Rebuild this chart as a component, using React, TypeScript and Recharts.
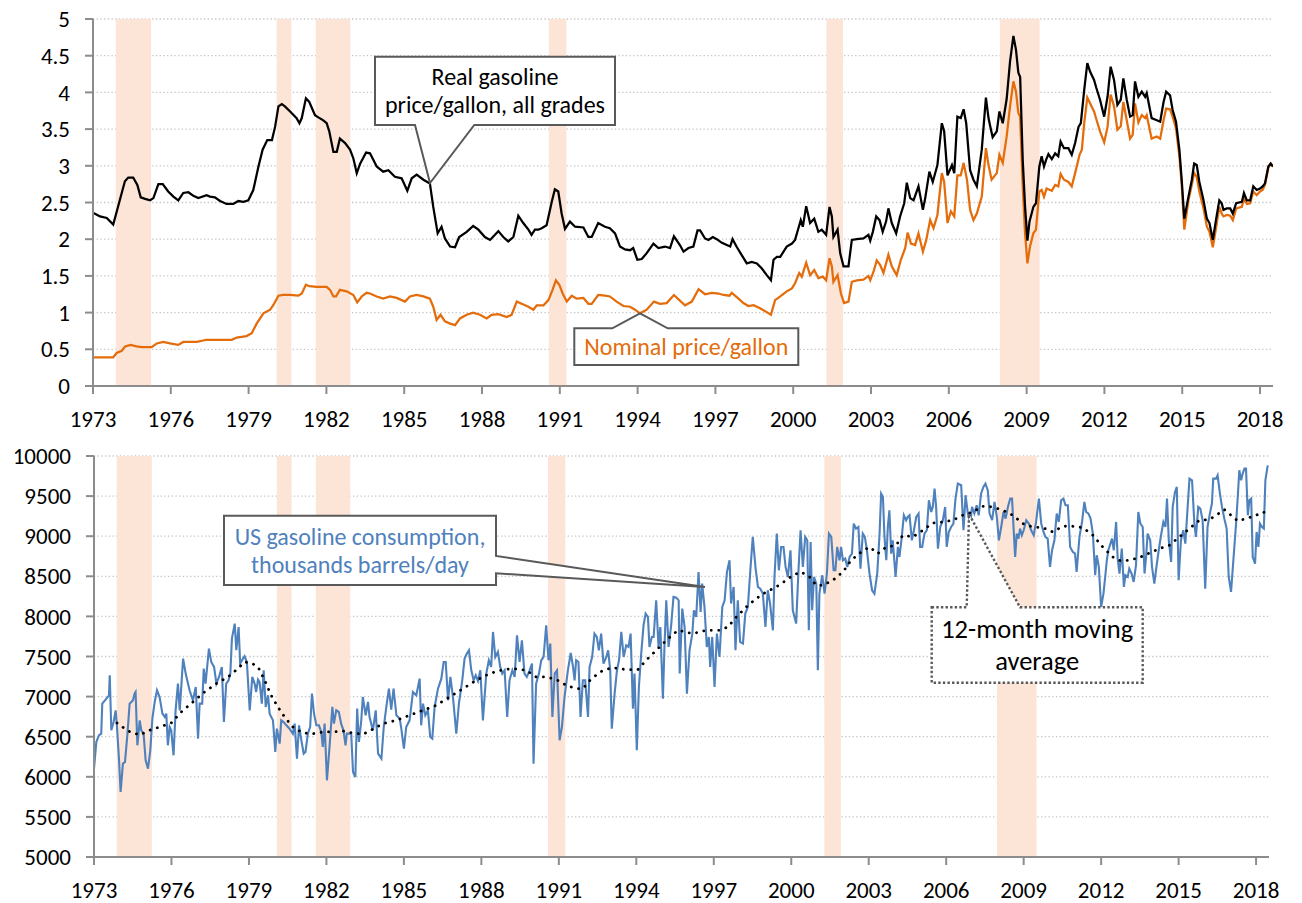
import { CartesianGrid, Line, LineChart, ReferenceArea, XAxis, YAxis } from "recharts";

const FONT = "Calibri, Carlito, Lato, sans-serif";

const YEAR_TICKS = [1973, 1976, 1979, 1982, 1985, 1988, 1991, 1994, 1997, 2000, 2003, 2006, 2009, 2012, 2015, 2018];
const PRICE_TICKS = [0, 0.5, 1, 1.5, 2, 2.5, 3, 3.5, 4, 4.5, 5];
const CONS_TICKS = [5000, 5500, 6000, 6500, 7000, 7500, 8000, 8500, 9000, 9500, 10000];

// NBER recessions, start / end as decimal years
const RECESSIONS: [number, number][] = [
  [1973.88, 1975.24],
  [1980.08, 1980.65],
  [1981.59, 1982.92],
  [1990.58, 1991.25],
  [2001.28, 2001.92],
  [2007.97, 2009.5],
];

// real price, $/gallon
const REAL_PRICE: [number, number][] = [
  [1973.0, 2.36], [1973.27, 2.31], [1973.53, 2.29], [1973.78, 2.2], [1974.04, 2.54], [1974.23, 2.79], [1974.36, 2.84],
  [1974.55, 2.84], [1974.71, 2.74], [1974.84, 2.57], [1975.01, 2.55], [1975.2, 2.53], [1975.33, 2.56], [1975.52, 2.75],
  [1975.69, 2.75], [1975.9, 2.65], [1976.1, 2.58], [1976.29, 2.53], [1976.48, 2.63], [1976.68, 2.64], [1976.87, 2.59],
  [1977.06, 2.56], [1977.38, 2.6], [1977.51, 2.58], [1977.7, 2.57], [1977.9, 2.52], [1978.15, 2.48], [1978.41, 2.48],
  [1978.6, 2.52], [1978.8, 2.51], [1978.99, 2.53], [1979.18, 2.67], [1979.38, 2.99], [1979.54, 3.22], [1979.72, 3.35],
  [1979.9, 3.35], [1980.02, 3.53], [1980.15, 3.81], [1980.28, 3.84], [1980.4, 3.81], [1980.6, 3.74], [1980.85, 3.65],
  [1980.96, 3.58], [1981.05, 3.65], [1981.21, 3.92], [1981.34, 3.87], [1981.56, 3.69], [1981.69, 3.66], [1981.88, 3.62],
  [1982.01, 3.58], [1982.11, 3.47], [1982.27, 3.19], [1982.4, 3.19], [1982.52, 3.37], [1982.72, 3.31], [1982.91, 3.22],
  [1983.04, 3.1], [1983.17, 2.9], [1983.3, 3.03], [1983.53, 3.18], [1983.68, 3.17], [1983.94, 2.99], [1984.19, 2.92],
  [1984.39, 2.94], [1984.64, 2.85], [1984.9, 2.83], [1985.12, 2.66], [1985.29, 2.83], [1985.48, 2.88], [1985.74, 2.81],
  [1985.99, 2.76], [1986.12, 2.44], [1986.29, 2.08], [1986.44, 2.17], [1986.57, 2.01], [1986.77, 1.9], [1986.96, 1.89],
  [1987.12, 2.03], [1987.41, 2.1], [1987.66, 2.18], [1987.86, 2.13], [1988.11, 2.03], [1988.31, 1.99], [1988.63, 2.11],
  [1988.82, 2.03], [1989.01, 1.97], [1989.21, 2.03], [1989.4, 2.32], [1989.59, 2.22], [1989.79, 2.13], [1989.91, 2.06],
  [1990.04, 2.13], [1990.17, 2.13], [1990.3, 2.15], [1990.49, 2.19], [1990.69, 2.51], [1990.81, 2.68], [1990.94, 2.65],
  [1991.07, 2.35], [1991.2, 2.14], [1991.39, 2.24], [1991.59, 2.17], [1991.91, 2.16], [1992.1, 2.03], [1992.23, 2.03],
  [1992.48, 2.22], [1992.74, 2.17], [1992.93, 2.15], [1993.13, 2.08], [1993.32, 1.9], [1993.51, 1.86], [1993.71, 1.85],
  [1993.83, 1.88], [1993.99, 1.72], [1994.16, 1.73], [1994.35, 1.81], [1994.61, 1.94], [1994.8, 1.88], [1995.06, 1.9],
  [1995.25, 1.88], [1995.4, 2.04], [1995.63, 1.92], [1995.77, 1.83], [1995.96, 1.88], [1996.15, 1.9], [1996.31, 2.12],
  [1996.41, 2.12], [1996.6, 2.01], [1996.73, 1.99], [1996.9, 2.03], [1997.05, 2.0], [1997.25, 1.95], [1997.44, 1.92],
  [1997.57, 1.9], [1997.66, 2.0], [1997.83, 1.89], [1998.02, 1.78], [1998.21, 1.67], [1998.4, 1.69], [1998.6, 1.67],
  [1998.79, 1.6], [1998.98, 1.51], [1999.14, 1.44], [1999.24, 1.72], [1999.37, 1.76], [1999.5, 1.76], [1999.75, 1.9],
  [1999.95, 1.94], [2000.07, 1.99], [2000.2, 2.15], [2000.29, 2.26], [2000.37, 2.17], [2000.5, 2.45], [2000.65, 2.22],
  [2000.81, 2.28], [2000.97, 2.1], [2001.1, 2.13], [2001.27, 2.06], [2001.4, 2.44], [2001.49, 2.31], [2001.55, 2.03],
  [2001.71, 2.13], [2001.81, 1.81], [2001.94, 1.63], [2002.13, 1.63], [2002.26, 1.99], [2002.45, 2.0], [2002.71, 2.01],
  [2002.9, 2.06], [2002.97, 1.98], [2003.07, 2.1], [2003.2, 2.31], [2003.33, 2.26], [2003.45, 2.1], [2003.58, 2.24],
  [2003.67, 2.42], [2003.8, 2.22], [2003.97, 2.08], [2004.12, 2.31], [2004.28, 2.49], [2004.38, 2.77], [2004.51, 2.56],
  [2004.64, 2.53], [2004.83, 2.72], [2005.0, 2.4], [2005.09, 2.56], [2005.25, 2.92], [2005.38, 2.78], [2005.56, 3.01],
  [2005.73, 3.58], [2005.82, 3.47], [2005.95, 2.87], [2006.12, 3.01], [2006.21, 2.9], [2006.33, 3.67], [2006.46, 3.65],
  [2006.57, 3.77], [2006.67, 3.58], [2006.82, 2.94], [2006.95, 2.81], [2007.08, 2.72], [2007.27, 3.22], [2007.43, 3.93],
  [2007.53, 3.65], [2007.59, 3.55], [2007.69, 3.39], [2007.85, 3.47], [2007.95, 3.74], [2008.08, 3.58], [2008.23, 3.91],
  [2008.36, 4.42], [2008.49, 4.77], [2008.59, 4.58], [2008.68, 4.27], [2008.75, 4.21], [2008.85, 3.08], [2008.94, 2.44],
  [2009.03, 1.98], [2009.11, 2.24], [2009.26, 2.44], [2009.36, 2.49], [2009.49, 2.99], [2009.58, 3.13], [2009.67, 2.99],
  [2009.75, 3.08], [2009.84, 3.16], [2009.97, 3.09], [2010.1, 3.17], [2010.22, 3.13], [2010.31, 3.33], [2010.44, 3.24],
  [2010.61, 3.24], [2010.74, 3.15], [2010.87, 3.31], [2011.0, 3.53], [2011.09, 3.58], [2011.22, 4.03], [2011.34, 4.4],
  [2011.45, 4.28], [2011.6, 4.17], [2011.68, 4.07], [2011.83, 3.9], [2011.99, 3.67], [2012.12, 3.94], [2012.24, 4.35],
  [2012.37, 4.17], [2012.5, 3.83], [2012.63, 3.9], [2012.73, 4.19], [2012.86, 3.9], [2012.99, 3.67], [2013.09, 3.69],
  [2013.18, 4.15], [2013.31, 3.94], [2013.44, 4.01], [2013.57, 3.94], [2013.63, 3.99], [2013.82, 3.65], [2014.02, 3.62],
  [2014.15, 3.6], [2014.28, 3.87], [2014.38, 4.01], [2014.53, 3.96], [2014.63, 3.76], [2014.76, 3.6], [2014.89, 3.22],
  [2014.98, 2.81], [2015.08, 2.28], [2015.24, 2.58], [2015.37, 2.81], [2015.46, 3.03], [2015.56, 3.01], [2015.66, 2.78],
  [2015.82, 2.53], [2015.95, 2.28], [2016.05, 2.22], [2016.18, 1.99], [2016.31, 2.28], [2016.43, 2.53], [2016.52, 2.49],
  [2016.59, 2.4], [2016.72, 2.42], [2016.85, 2.42], [2016.95, 2.35], [2017.08, 2.49], [2017.3, 2.51], [2017.38, 2.63],
  [2017.49, 2.53], [2017.62, 2.53], [2017.74, 2.72], [2017.87, 2.67], [2018.0, 2.69], [2018.1, 2.72], [2018.19, 2.76],
  [2018.32, 2.99], [2018.41, 3.03], [2018.5, 2.99],
];

// nominal price, $/gallon
const NOMINAL_PRICE: [number, number][] = [
  [1973.0, 0.39], [1973.78, 0.39], [1973.91, 0.45], [1974.11, 0.48], [1974.24, 0.54], [1974.45, 0.56], [1974.68, 0.54],
  [1974.88, 0.53], [1975.26, 0.53], [1975.46, 0.58], [1975.71, 0.6], [1975.97, 0.58], [1976.29, 0.56], [1976.48, 0.6],
  [1977.0, 0.6], [1977.38, 0.63], [1978.35, 0.63], [1978.54, 0.66], [1978.92, 0.68], [1979.12, 0.72], [1979.31, 0.85],
  [1979.57, 0.99], [1979.83, 1.04], [1979.95, 1.1], [1980.15, 1.23], [1980.34, 1.24], [1980.6, 1.24], [1980.92, 1.23],
  [1981.05, 1.26], [1981.21, 1.38], [1981.34, 1.36], [1981.62, 1.35], [1982.01, 1.35], [1982.14, 1.31], [1982.27, 1.22],
  [1982.37, 1.22], [1982.52, 1.31], [1982.78, 1.29], [1983.04, 1.24], [1983.19, 1.14], [1983.36, 1.22], [1983.55, 1.27],
  [1983.68, 1.26], [1983.94, 1.22], [1984.19, 1.19], [1984.45, 1.22], [1984.71, 1.2], [1985.03, 1.15], [1985.22, 1.22],
  [1985.48, 1.24], [1985.74, 1.22], [1985.99, 1.19], [1986.12, 1.08], [1986.25, 0.9], [1986.4, 0.97], [1986.57, 0.88],
  [1986.77, 0.85], [1986.96, 0.83], [1987.15, 0.92], [1987.41, 0.97], [1987.66, 1.0], [1987.92, 0.97], [1988.18, 0.92],
  [1988.37, 0.97], [1988.63, 0.98], [1988.95, 0.94], [1989.14, 0.97], [1989.34, 1.15], [1989.53, 1.12], [1989.79, 1.08],
  [1989.98, 1.04], [1990.11, 1.1], [1990.37, 1.1], [1990.56, 1.17], [1990.72, 1.31], [1990.85, 1.44], [1990.98, 1.38],
  [1991.11, 1.26], [1991.27, 1.15], [1991.46, 1.23], [1991.65, 1.19], [1991.91, 1.2], [1992.1, 1.12], [1992.23, 1.12],
  [1992.48, 1.24], [1992.74, 1.23], [1992.93, 1.22], [1993.19, 1.15], [1993.45, 1.09], [1993.71, 1.08], [1993.9, 1.04],
  [1994.09, 0.99], [1994.35, 1.04], [1994.63, 1.15], [1994.86, 1.12], [1995.12, 1.13], [1995.4, 1.24], [1995.64, 1.16],
  [1995.83, 1.1], [1996.09, 1.15], [1996.35, 1.32], [1996.6, 1.25], [1996.86, 1.27], [1997.12, 1.26], [1997.31, 1.24],
  [1997.54, 1.23], [1997.63, 1.27], [1997.89, 1.19], [1998.08, 1.13], [1998.27, 1.09], [1998.47, 1.1], [1998.72, 1.06],
  [1998.96, 1.01], [1999.14, 0.97], [1999.3, 1.17], [1999.5, 1.22], [1999.75, 1.29], [1999.95, 1.33], [2000.07, 1.4],
  [2000.23, 1.54], [2000.33, 1.49], [2000.5, 1.68], [2000.65, 1.51], [2000.81, 1.58], [2000.97, 1.47], [2001.14, 1.49],
  [2001.27, 1.44], [2001.4, 1.74], [2001.49, 1.63], [2001.55, 1.42], [2001.71, 1.51], [2001.84, 1.26], [2001.96, 1.13],
  [2002.13, 1.15], [2002.26, 1.42], [2002.45, 1.44], [2002.71, 1.45], [2002.9, 1.5], [2002.97, 1.44], [2003.1, 1.56],
  [2003.22, 1.71], [2003.35, 1.65], [2003.48, 1.54], [2003.67, 1.79], [2003.8, 1.63], [2003.99, 1.51], [2004.15, 1.72],
  [2004.32, 1.88], [2004.41, 2.09], [2004.54, 1.94], [2004.7, 1.92], [2004.83, 2.08], [2005.0, 1.83], [2005.13, 1.99],
  [2005.28, 2.26], [2005.41, 2.15], [2005.56, 2.33], [2005.73, 2.9], [2005.82, 2.78], [2005.95, 2.22], [2006.08, 2.38],
  [2006.21, 2.31], [2006.33, 2.87], [2006.46, 2.87], [2006.57, 3.04], [2006.7, 2.81], [2006.82, 2.4], [2006.95, 2.26],
  [2007.08, 2.35], [2007.27, 2.58], [2007.43, 3.24], [2007.53, 3.01], [2007.65, 2.81], [2007.85, 2.9], [2007.95, 3.15],
  [2008.08, 3.04], [2008.23, 3.4], [2008.36, 3.81], [2008.49, 4.15], [2008.59, 4.01], [2008.68, 3.72], [2008.75, 3.67],
  [2008.85, 2.72], [2008.94, 2.08], [2009.03, 1.67], [2009.13, 1.9], [2009.26, 2.08], [2009.36, 2.13], [2009.49, 2.65],
  [2009.58, 2.67], [2009.67, 2.58], [2009.77, 2.69], [2009.97, 2.66], [2010.1, 2.74], [2010.22, 2.72], [2010.31, 2.89],
  [2010.44, 2.81], [2010.61, 2.78], [2010.74, 2.72], [2010.87, 2.9], [2011.04, 3.15], [2011.13, 3.22], [2011.22, 3.58],
  [2011.34, 3.93], [2011.45, 3.85], [2011.6, 3.74], [2011.7, 3.62], [2011.83, 3.47], [2011.99, 3.32], [2012.12, 3.53],
  [2012.24, 3.97], [2012.37, 3.81], [2012.5, 3.49], [2012.63, 3.54], [2012.73, 3.87], [2012.86, 3.62], [2012.99, 3.37],
  [2013.09, 3.42], [2013.18, 3.85], [2013.31, 3.59], [2013.44, 3.69], [2013.57, 3.65], [2013.63, 3.69], [2013.82, 3.37],
  [2014.02, 3.4], [2014.15, 3.37], [2014.28, 3.62], [2014.38, 3.78], [2014.53, 3.77], [2014.63, 3.67], [2014.76, 3.51],
  [2014.89, 3.13], [2014.98, 2.74], [2015.08, 2.13], [2015.24, 2.53], [2015.37, 2.74], [2015.46, 2.9], [2015.56, 2.85],
  [2015.66, 2.65], [2015.82, 2.42], [2015.95, 2.17], [2016.05, 2.1], [2016.18, 1.89], [2016.31, 2.17], [2016.43, 2.44],
  [2016.52, 2.35], [2016.59, 2.31], [2016.72, 2.33], [2016.85, 2.32], [2016.95, 2.26], [2017.08, 2.42], [2017.3, 2.44],
  [2017.38, 2.56], [2017.49, 2.48], [2017.62, 2.49], [2017.74, 2.65], [2017.87, 2.6], [2018.0, 2.65], [2018.1, 2.67],
  [2018.19, 2.74], [2018.32, 2.97], [2018.41, 3.03], [2018.5, 2.99],
];

// US gasoline consumption, thousand barrels/day (monthly)
const CONSUMPTION: [number, number][] = [
  [1973.0, 6100], [1973.09, 6434], [1973.19, 6517], [1973.28, 6538], [1973.32, 6912], [1973.48, 6975], [1973.58, 7016],
  [1973.61, 7266], [1973.67, 6580], [1973.76, 6683], [1973.84, 6829], [1973.89, 6621], [1973.97, 6205], [1974.03, 5810],
  [1974.12, 6164], [1974.2, 6185], [1974.29, 6517], [1974.38, 6912], [1974.51, 6954], [1974.57, 7037], [1974.61, 7058],
  [1974.68, 6393], [1974.77, 6704], [1974.83, 6580], [1974.92, 6538], [1975.0, 6205], [1975.09, 6102], [1975.18, 6330],
  [1975.26, 6725], [1975.35, 6933], [1975.44, 7079], [1975.54, 6995], [1975.65, 6788], [1975.74, 6746], [1975.8, 6788],
  [1975.86, 6393], [1975.93, 6621], [1975.99, 6580], [1976.08, 6268], [1976.16, 6829], [1976.25, 7162], [1976.32, 6829],
  [1976.45, 7474], [1976.55, 7287], [1976.7, 7079], [1976.83, 6954], [1976.94, 7120], [1977.03, 6476], [1977.09, 6912],
  [1977.19, 6912], [1977.25, 7349], [1977.32, 7162], [1977.45, 7598], [1977.54, 7432], [1977.65, 7370], [1977.74, 7162],
  [1977.84, 7245], [1977.95, 7370], [1978.03, 6683], [1978.12, 7162], [1978.21, 7203], [1978.28, 7287], [1978.34, 7723],
  [1978.45, 7910], [1978.51, 7578], [1978.6, 7868], [1978.66, 7411], [1978.77, 7474], [1978.83, 7503], [1978.92, 7432],
  [1979.03, 6829], [1979.13, 7245], [1979.22, 7162], [1979.28, 7058], [1979.35, 7212], [1979.41, 7183], [1979.5, 6912],
  [1979.57, 7328], [1979.65, 6871], [1979.74, 7016], [1979.8, 6788], [1979.93, 6704], [1980.02, 6310], [1980.08, 6600],
  [1980.19, 6413], [1980.25, 6704], [1980.34, 6683], [1980.45, 6642], [1980.57, 6600], [1980.7, 6538], [1980.77, 6663],
  [1980.86, 6226], [1980.94, 6642], [1981.03, 6455], [1981.12, 6289], [1981.19, 6310], [1981.28, 6538], [1981.37, 6621],
  [1981.44, 7037], [1981.52, 6788], [1981.61, 6642], [1981.71, 6642], [1981.8, 6559], [1981.86, 6372], [1981.93, 6663],
  [1982.02, 5956], [1982.12, 6372], [1982.23, 6871], [1982.29, 6663], [1982.38, 6829], [1982.48, 6808], [1982.57, 6663],
  [1982.66, 6580], [1982.74, 6393], [1982.79, 6538], [1982.87, 6538], [1982.96, 6538], [1983.03, 6060], [1983.12, 5998],
  [1983.19, 6850], [1983.26, 6434], [1983.35, 6704], [1983.41, 6995], [1983.52, 6767], [1983.61, 6933], [1983.67, 6746],
  [1983.8, 6580], [1983.91, 6829], [1984.0, 6289], [1984.13, 6226], [1984.22, 6621], [1984.32, 6871], [1984.42, 7099],
  [1984.51, 6837], [1984.6, 7099], [1984.71, 6767], [1984.84, 6725], [1984.9, 6600], [1985.0, 6351], [1985.09, 6621],
  [1985.22, 6704], [1985.35, 7058], [1985.48, 7016], [1985.61, 7224], [1985.67, 6642], [1985.74, 6912], [1985.83, 6767],
  [1985.93, 6829], [1986.02, 6497], [1986.1, 6476], [1986.19, 6871], [1986.32, 7099], [1986.45, 7224], [1986.54, 7432],
  [1986.62, 7432], [1986.71, 6954], [1986.8, 7245], [1986.9, 6995], [1987.03, 6538], [1987.13, 6912], [1987.26, 7203],
  [1987.35, 7474], [1987.44, 7536], [1987.52, 7577], [1987.61, 7328], [1987.7, 7203], [1987.78, 7266], [1987.87, 7195],
  [1987.96, 7328], [1988.06, 6704], [1988.19, 7287], [1988.29, 7453], [1988.38, 7370], [1988.45, 7806], [1988.54, 7494],
  [1988.64, 7557], [1988.73, 7370], [1988.81, 7287], [1988.9, 7328], [1989.0, 6746], [1989.09, 7203], [1989.2, 7328],
  [1989.29, 7245], [1989.38, 7764], [1989.48, 7432], [1989.57, 7702], [1989.67, 7287], [1989.76, 7245], [1989.87, 7328],
  [1989.96, 7411], [1990.02, 6164], [1990.12, 7162], [1990.23, 7287], [1990.32, 7453], [1990.41, 7494], [1990.51, 7889],
  [1990.6, 7453], [1990.67, 7661], [1990.75, 6746], [1990.84, 7287], [1990.93, 7328], [1991.03, 6455], [1991.12, 6621],
  [1991.22, 6995], [1991.35, 7328], [1991.46, 7544], [1991.55, 7370], [1991.61, 7203], [1991.67, 7453], [1991.76, 7432],
  [1991.84, 6746], [1991.93, 7203], [1992.02, 7203], [1992.13, 6746], [1992.19, 7370], [1992.29, 7494], [1992.38, 7785],
  [1992.47, 7744], [1992.55, 7577], [1992.64, 7785], [1992.73, 7411], [1992.84, 7494], [1992.91, 7577], [1992.99, 7328],
  [1993.05, 6600], [1993.16, 7037], [1993.25, 7328], [1993.33, 7453], [1993.42, 7806], [1993.51, 7494], [1993.61, 7640],
  [1993.7, 7619], [1993.78, 7785], [1993.87, 6850], [1993.93, 7287], [1994.02, 6330], [1994.1, 7120], [1994.19, 7536],
  [1994.28, 7889], [1994.36, 8035], [1994.45, 7993], [1994.51, 7619], [1994.6, 7744], [1994.67, 7744], [1994.77, 8201],
  [1994.86, 7619], [1994.93, 7868], [1995.03, 6975], [1995.09, 7619], [1995.16, 8201], [1995.25, 7619], [1995.35, 7889],
  [1995.44, 8243], [1995.55, 8234], [1995.64, 8201], [1995.68, 7287], [1995.78, 8097], [1995.87, 7868], [1995.96, 7037],
  [1996.06, 7577], [1996.17, 7785], [1996.23, 8076], [1996.32, 7993], [1996.41, 8554], [1996.49, 8055], [1996.55, 8409],
  [1996.64, 8118], [1996.73, 7619], [1996.81, 7744], [1996.86, 7370], [1996.94, 7744], [1997.03, 7120], [1997.12, 7785],
  [1997.22, 7494], [1997.33, 8118], [1997.42, 8201], [1997.51, 8554], [1997.61, 8700], [1997.67, 8160], [1997.77, 8367],
  [1997.84, 7577], [1997.93, 8201], [1998.02, 7681], [1998.13, 7661], [1998.22, 8035], [1998.32, 8118], [1998.42, 8596],
  [1998.51, 8991], [1998.62, 8596], [1998.71, 8367], [1998.8, 8346], [1998.9, 8284], [1999.0, 7868], [1999.09, 8326],
  [1999.18, 8160], [1999.29, 7827], [1999.35, 8492], [1999.44, 9032], [1999.52, 8575], [1999.61, 8866], [1999.7, 8866],
  [1999.78, 8617], [1999.87, 8492], [1999.97, 8825], [2000.06, 8076], [2000.19, 7910], [2000.28, 8575], [2000.36, 9074],
  [2000.45, 8617], [2000.54, 8991], [2000.62, 8949], [2000.68, 7827], [2000.75, 8928], [2000.81, 8076], [2000.88, 8492],
  [2000.97, 8409], [2001.03, 7328], [2001.09, 8284], [2001.2, 8513], [2001.29, 8284], [2001.38, 8534], [2001.46, 9032],
  [2001.55, 8991], [2001.64, 8575], [2001.71, 8575], [2001.78, 8866], [2001.87, 8700], [2001.93, 8866], [2002.0, 8700],
  [2002.09, 8721], [2002.17, 8617], [2002.26, 8741], [2002.35, 8783], [2002.42, 9157], [2002.51, 9095], [2002.6, 9115],
  [2002.68, 8596], [2002.77, 9032], [2002.85, 8991], [2002.93, 8825], [2003.03, 8534], [2003.13, 8326], [2003.22, 8284],
  [2003.33, 8534], [2003.42, 9032], [2003.48, 9531], [2003.55, 9490], [2003.61, 8991], [2003.68, 8700], [2003.74, 9115],
  [2003.8, 9323], [2003.87, 8783], [2003.93, 8949], [2004.04, 8492], [2004.13, 8866], [2004.19, 8741], [2004.28, 8991],
  [2004.36, 9261], [2004.45, 9199], [2004.51, 9240], [2004.58, 9261], [2004.67, 8949], [2004.75, 9074], [2004.84, 9240],
  [2004.93, 9282], [2004.99, 8866], [2005.07, 8866], [2005.16, 9032], [2005.25, 9074], [2005.33, 9448], [2005.42, 9302],
  [2005.48, 9365], [2005.55, 9593], [2005.61, 9365], [2005.68, 8845], [2005.77, 9115], [2005.87, 9199], [2005.96, 9365],
  [2006.02, 8866], [2006.1, 9053], [2006.19, 9115], [2006.28, 9157], [2006.36, 9469], [2006.45, 9656], [2006.58, 9636],
  [2006.67, 9074], [2006.75, 9511], [2006.84, 9282], [2006.93, 9157], [2007.0, 9365], [2007.09, 9282], [2007.18, 9386],
  [2007.26, 9261], [2007.35, 9531], [2007.44, 9614], [2007.52, 9656], [2007.61, 9573], [2007.68, 9282], [2007.78, 9199],
  [2007.87, 9427], [2007.96, 9240], [2008.04, 8949], [2008.13, 9115], [2008.22, 9302], [2008.3, 9219], [2008.39, 9365],
  [2008.48, 9469], [2008.55, 9469], [2008.6, 9157], [2008.67, 8741], [2008.73, 9032], [2008.8, 8970], [2008.86, 9095],
  [2008.93, 9012], [2009.0, 9074], [2009.1, 9199], [2009.2, 9157], [2009.29, 9074], [2009.39, 9012], [2009.48, 9178],
  [2009.59, 9469], [2009.68, 9157], [2009.77, 9053], [2009.84, 8991], [2009.93, 8970], [2010.02, 8617], [2010.1, 8825],
  [2010.19, 8949], [2010.28, 9282], [2010.36, 9178], [2010.45, 9448], [2010.54, 9469], [2010.62, 9386], [2010.71, 9386],
  [2010.8, 8866], [2010.9, 8804], [2010.99, 8783], [2011.05, 8554], [2011.16, 8991], [2011.26, 9178], [2011.35, 9427],
  [2011.42, 9302], [2011.51, 9282], [2011.59, 9219], [2011.68, 9032], [2011.77, 8513], [2011.83, 8762], [2011.91, 8617],
  [2012.0, 8118], [2012.09, 8284], [2012.17, 8534], [2012.22, 8700], [2012.28, 8825], [2012.36, 8908], [2012.42, 8970],
  [2012.49, 8825], [2012.58, 9178], [2012.64, 8721], [2012.71, 8534], [2012.8, 8845], [2012.88, 8367], [2012.94, 8513],
  [2013.03, 8492], [2013.09, 8596], [2013.18, 8534], [2013.26, 8430], [2013.35, 8638], [2013.44, 9302], [2013.52, 9157],
  [2013.61, 9115], [2013.68, 8534], [2013.74, 8741], [2013.8, 9032], [2013.9, 8949], [2013.97, 8617], [2014.06, 8409],
  [2014.15, 8638], [2014.23, 8825], [2014.32, 9012], [2014.41, 9178], [2014.49, 9115], [2014.55, 9469], [2014.62, 8949],
  [2014.71, 8679], [2014.77, 9365], [2014.86, 9552], [2014.93, 9614], [2015.0, 8450], [2015.09, 8949], [2015.18, 9074],
  [2015.26, 8908], [2015.35, 9365], [2015.42, 9718], [2015.52, 9697], [2015.61, 9157], [2015.67, 8991], [2015.76, 9365],
  [2015.84, 9344], [2015.93, 9199], [2016.03, 8346], [2016.12, 9115], [2016.21, 9282], [2016.29, 9407], [2016.34, 9718],
  [2016.45, 9718], [2016.51, 9760], [2016.6, 9531], [2016.68, 9365], [2016.77, 9219], [2016.86, 9095], [2016.94, 8492],
  [2017.03, 8305], [2017.12, 8700], [2017.23, 9178], [2017.29, 9490], [2017.35, 9822], [2017.42, 9697], [2017.48, 9781],
  [2017.55, 9843], [2017.61, 9843], [2017.68, 9261], [2017.74, 9448], [2017.81, 9469], [2017.87, 8741], [2017.96, 8658],
  [2018.02, 9053], [2018.09, 8866], [2018.15, 9157], [2018.23, 9115], [2018.3, 9095], [2018.36, 9697], [2018.45, 9884],
];

// 12-month moving average, as drawn (dotted)
const CONSUMPTION_MA: [number, number][] = [
  [1973.89, 6671], [1974.32, 6571], [1974.77, 6521], [1975.15, 6580], [1975.54, 6621], [1975.99, 6671], [1976.38, 6808],
  [1976.83, 6933], [1977.28, 7058], [1977.74, 7162], [1978.19, 7245], [1978.57, 7349], [1978.83, 7432], [1979.09, 7419],
  [1979.35, 7370], [1979.61, 7203], [1979.86, 7016], [1980.12, 6871], [1980.38, 6746], [1980.7, 6621], [1981.09, 6546],
  [1981.48, 6538], [1981.86, 6559], [1982.25, 6559], [1982.64, 6571], [1983.03, 6546], [1983.41, 6530], [1983.67, 6571],
  [1984.19, 6663], [1984.71, 6704], [1985.22, 6767], [1985.74, 6829], [1986.25, 6891], [1986.77, 6995], [1987.29, 7099],
  [1987.8, 7203], [1988.32, 7287], [1988.84, 7336], [1989.22, 7349], [1989.74, 7328], [1990.12, 7245], [1990.51, 7245],
  [1990.9, 7212], [1991.29, 7141], [1991.67, 7099], [1991.93, 7099], [1992.26, 7224], [1992.71, 7328], [1993.09, 7361],
  [1993.61, 7336], [1994.06, 7336], [1994.38, 7453], [1994.77, 7577], [1995.16, 7702], [1995.61, 7827], [1996.19, 7785],
  [1996.71, 7827], [1997.22, 7827], [1997.55, 7868], [1997.87, 7993], [1998.26, 8118], [1998.64, 8222], [1999.03, 8305],
  [1999.42, 8367], [1999.8, 8450], [2000.06, 8513], [2000.38, 8554], [2000.71, 8492], [2000.97, 8388], [2001.22, 8388],
  [2001.61, 8450], [2002.0, 8554], [2002.32, 8700], [2002.71, 8804], [2003.03, 8866], [2003.35, 8783], [2003.68, 8866],
  [2004.06, 8887], [2004.32, 9012], [2004.71, 8991], [2005.1, 9074], [2005.48, 9165], [2005.87, 9178], [2006.26, 9199],
  [2006.64, 9261], [2007.03, 9302], [2007.42, 9373], [2007.81, 9365], [2008.19, 9323], [2008.58, 9261], [2008.97, 9157],
  [2009.35, 9115], [2009.74, 9107], [2010.13, 9053], [2010.52, 9124], [2010.9, 9124], [2011.29, 9107], [2011.68, 9012],
  [2012.06, 8866], [2012.45, 8741], [2012.77, 8691], [2013.09, 8700], [2013.48, 8733], [2013.87, 8791], [2014.26, 8845],
  [2014.64, 8887], [2015.03, 8991], [2015.42, 9095], [2015.81, 9199], [2016.19, 9207], [2016.51, 9273], [2016.77, 9332],
  [2017.03, 9261], [2017.29, 9190], [2017.61, 9219], [2018.0, 9261], [2018.26, 9302], [2018.45, 9282],
];

const toRows = (pts: [number, number][]) => pts.map(([t, v]) => ({ t, v }));

const AXIS = { stroke: "#8c8c8c", strokeWidth: 2 };
const TICK = { fill: "#000", fontSize: 23, fontFamily: FONT };

function Recessions() {
  return (
    <>
      {RECESSIONS.map(([a, b]) => (
        <ReferenceArea key={a} x1={a} x2={b} fill="#FCE4D6" fillOpacity={1} stroke="none" ifOverflow="hidden" />
      ))}
    </>
  );
}

function PriceChart() {
  return (
    <LineChart width={1302} height={440} margin={{ top: 19, right: 29, bottom: 14, left: 0 }}>
      <CartesianGrid vertical={false} stroke="#c4c4c4" strokeWidth={1.3} strokeDasharray="1.3 2.4" />
      {Recessions()}
      <XAxis
        type="number"
        dataKey="t"
        domain={[1973, 2018.5]}
        ticks={YEAR_TICKS}
        interval={0}
        allowDataOverflow
        height={40}
        tickSize={8}
        tickMargin={17}
        axisLine={AXIS}
        tickLine={AXIS}
        tick={TICK}
      />
      <YAxis
        type="number"
        domain={[0, 5]}
        ticks={PRICE_TICKS}
        interval={0}
        width={93}
        tickSize={8}
        tickMargin={15}
        axisLine={AXIS}
        tickLine={AXIS}
        tick={TICK}
      />
      <Line data={toRows(NOMINAL_PRICE)} dataKey="v" type="linear" stroke="#E46C0A" strokeWidth={2.25}
        dot={false} activeDot={false} isAnimationActive={false} />
      <Line data={toRows(REAL_PRICE)} dataKey="v" type="linear" stroke="#000" strokeWidth={2.25}
        dot={false} activeDot={false} isAnimationActive={false} />
    </LineChart>
  );
}

function ConsumptionChart() {
  return (
    <LineChart width={1302} height={463} margin={{ top: 16, right: 33, bottom: 6, left: 0 }}>
      <CartesianGrid vertical={false} stroke="#c4c4c4" strokeWidth={1.3} strokeDasharray="1.3 2.4" />
      {Recessions()}
      <XAxis
        type="number"
        dataKey="t"
        domain={[1973, 2018.5]}
        ticks={YEAR_TICKS}
        interval={0}
        allowDataOverflow
        height={40}
        tickSize={8}
        tickMargin={17}
        axisLine={AXIS}
        tickLine={AXIS}
        tick={TICK}
      />
      <YAxis
        type="number"
        domain={[5000, 10000]}
        ticks={CONS_TICKS}
        interval={0}
        width={94}
        tickSize={8}
        tickMargin={15}
        axisLine={AXIS}
        tickLine={AXIS}
        tick={TICK}
      />
      <Line data={toRows(CONSUMPTION)} dataKey="v" type="linear" stroke="#4F81BD" strokeWidth={2.1}
        dot={false} activeDot={false} isAnimationActive={false} />
      <Line data={toRows(CONSUMPTION_MA)} dataKey="v" type="linear" stroke="#000" strokeWidth={2.8}
        strokeDasharray="0.1 7.4" strokeLinecap="round" dot={false} activeDot={false} isAnimationActive={false} />
    </LineChart>
  );
}

function Callouts() {
  const txt = { fontFamily: FONT, textAnchor: "middle" as const };
  return (
    <svg width={1302} height={903} style={{ position: "absolute", left: 0, top: 0, pointerEvents: "none" }}>
      <path d="M375,56.7 H615 V125 H474.3 L430,183 L415,125 H375 Z" fill="#fff" stroke="#595959" strokeWidth={2} />
      <text x={495} y={85} fontSize={24} fill="#000" {...txt}>Real gasoline</text>
      <text x={495} y={113} fontSize={24} fill="#000" {...txt}>price/gallon, all grades</text>

      <path d="M574.3,328.3 H612.3 L640,313.3 L667.7,328.3 H798.3 V365 H574.3 Z" fill="#fff" stroke="#595959" strokeWidth={2} />
      <text x={686.3} y={355} fontSize={24} fill="#E46C0A" {...txt}>Nominal price/gallon</text>

      <path d="M224,515.7 H496 V556 L705,587 L496,573.3 V585 H224 Z" fill="#fff" stroke="#595959" strokeWidth={2} />
      <text x={360} y={545} fontSize={24} fill="#4F81BD" {...txt}>US gasoline consumption,</text>
      <text x={360} y={573.3} fontSize={24} fill="#4F81BD" {...txt}>thousands barrels/day</text>

      <path d="M931.7,607.3 H966.7 L969,514 L1020,607.3 H1142.7 V682.7 H931.7 Z" fill="#fff" stroke="#595959"
        strokeWidth={2.4} strokeDasharray="2.4 2.2" />
      <text x={1037.2} y={638.3} fontSize={26.5} fill="#000" {...txt}>12-month moving</text>
      <text x={1037.2} y={670} fontSize={26.5} fill="#000" {...txt}>average</text>
    </svg>
  );
}

export default function App() {
  return (
    <div style={{ position: "absolute", left: 0, top: 0, width: 1302, height: 903, background: "#fff", fontFamily: FONT }}>
      <div style={{ position: "absolute", left: 0, top: 0 }}>
        <PriceChart />
      </div>
      <div style={{ position: "absolute", left: 0, top: 440 }}>
        <ConsumptionChart />
      </div>
      <Callouts />
    </div>
  );
}
